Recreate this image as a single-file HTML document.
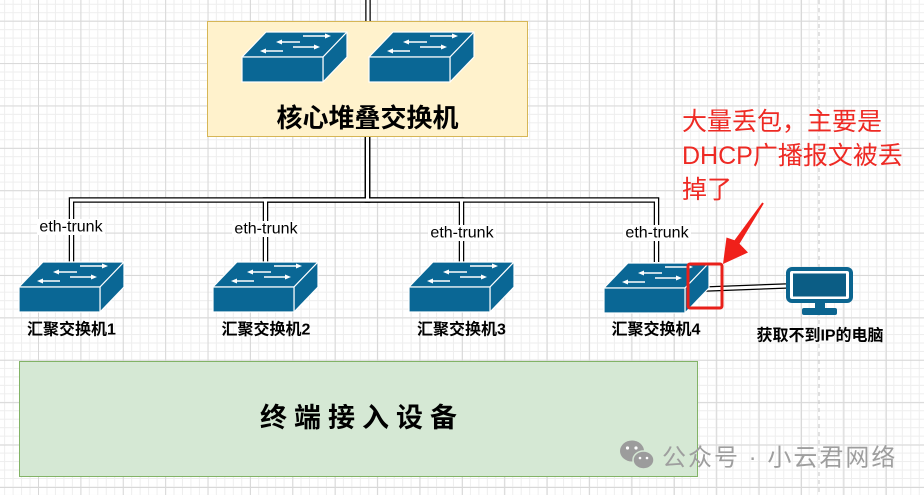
<!DOCTYPE html>
<html><head><meta charset="utf-8">
<style>
html,body{margin:0;padding:0;}
body{width:924px;height:495px;overflow:hidden;background-color:#fff;
background-image:
linear-gradient(to bottom,#d8d8d8 1px,transparent 1px),
linear-gradient(to right,#d8d8d8 1px,transparent 1px),
linear-gradient(to bottom,#eeeeee 1px,transparent 1px),
linear-gradient(to right,#eeeeee 1px,transparent 1px);
background-size:42.4px 42.4px,42.4px 42.4px,8.48px 8.48px,8.48px 8.48px;
background-position:0 20.7px,38px 0,0 20.7px,38px 0;}
svg{position:absolute;left:0;top:0;}
text{font-family:"Liberation Sans","Noto Sans CJK SC",sans-serif;}
</style></head>
<body>
<svg width="924" height="495" viewBox="0 0 924 495" xmlns="http://www.w3.org/2000/svg">
<defs>
<g id="sw">
  <polygon points="0,0 81,0 105,-25 24,-25" fill="#0a6795" stroke="#fff" stroke-width="1.2" stroke-linejoin="round"/>
  <polygon points="81,0 105,-25 105,0 81,25" fill="#0a6795" stroke="#fff" stroke-width="1.2" stroke-linejoin="round"/>
  <rect x="0" y="0" width="81" height="25" fill="#0a6795" stroke="#fff" stroke-width="1.2"/>
  <g stroke="#fff" stroke-width="1.6">
    <line x1="61" y1="-21" x2="84" y2="-21"/>
    <line x1="39" y1="-15" x2="58" y2="-15"/>
    <line x1="51" y1="-10" x2="73" y2="-10"/>
    <line x1="23" y1="-6" x2="41" y2="-6"/>
  </g>
  <g fill="#fff">
    <polygon points="89,-21 83,-23.5 83,-18.5"/>
    <polygon points="34,-15 40,-17.5 40,-12.5"/>
    <polygon points="78,-10 72,-12.5 72,-7.5"/>
    <polygon points="18,-6 24,-8.5 24,-3.5"/>
  </g>
</g>
</defs>

<line x1="819" y1="0" x2="819" y2="495" stroke="#c4c4c4" stroke-width="1" stroke-dasharray="4,4"/>

<g fill="none" stroke="#000" stroke-width="5.5" stroke-linejoin="miter">
  <path d="M368 0 V21"/>
  <path d="M367.5 137 V200 H71.5 V262"/>
  <path d="M367.5 137 V200 H265.5 V262"/>
  <path d="M367.5 137 V200 H461.5 V262"/>
  <path d="M367.5 137 V200 H656.5 V262"/>
  <path d="M706 289 L786 286"/>
</g>
<g fill="none" stroke="#fff" stroke-width="3" stroke-linejoin="miter">
  <path d="M368 0 V21"/>
  <path d="M367.5 137 V200 H71.5 V262"/>
  <path d="M367.5 137 V200 H265.5 V262"/>
  <path d="M367.5 137 V200 H461.5 V262"/>
  <path d="M367.5 137 V200 H656.5 V262"/>
  <path d="M706 289 L786 286"/>
</g>

<rect x="207.5" y="21.5" width="320" height="115" fill="#fff2cc" stroke="#d6b656" stroke-width="1"/>
<use href="#sw" x="242" y="57"/>
<use href="#sw" x="369" y="57"/>
<text x="367.5" y="118" font-size="26" font-weight="bold" text-anchor="middle" dominant-baseline="central" fill="#000">核心堆叠交换机</text>

<g font-size="16" fill="#000">
  <rect x="37" y="219" width="68" height="16" fill="#fff"/>
  <text x="71" y="227" text-anchor="middle" dominant-baseline="central">eth-trunk</text>
  <rect x="232" y="221" width="68" height="16" fill="#fff"/>
  <text x="266" y="229" text-anchor="middle" dominant-baseline="central">eth-trunk</text>
  <rect x="428" y="225" width="68" height="16" fill="#fff"/>
  <text x="462" y="233" text-anchor="middle" dominant-baseline="central">eth-trunk</text>
  <rect x="623" y="225" width="68" height="16" fill="#fff"/>
  <text x="657" y="233" text-anchor="middle" dominant-baseline="central">eth-trunk</text>
</g>

<use href="#sw" x="19" y="287"/>
<use href="#sw" x="213" y="287"/>
<use href="#sw" x="409" y="287"/>
<use href="#sw" x="604" y="288"/>
<g font-size="16" font-weight="bold" fill="#000" text-anchor="middle">
  <text x="71.5" y="330" dominant-baseline="central">汇聚交换机1</text>
  <text x="266" y="330" dominant-baseline="central">汇聚交换机2</text>
  <text x="461.5" y="330" dominant-baseline="central">汇聚交换机3</text>
  <text x="656" y="330" dominant-baseline="central">汇聚交换机4</text>
</g>

<rect x="786" y="267" width="67" height="36" rx="6" fill="#0b6590"/>
<rect x="790" y="271" width="59" height="28" rx="2" fill="#fff"/>
<rect x="793" y="273.5" width="53" height="23" fill="#0b5d85"/>
<rect x="815" y="303" width="10" height="7" fill="#0b6590"/>
<rect x="802" y="308" width="35" height="7" rx="2" fill="#0b6590"/>
<text x="820" y="336" font-size="16" font-weight="bold" text-anchor="middle" dominant-baseline="central" fill="#000">获取不到IP的电脑</text>

<rect x="688" y="264" width="34" height="44" rx="2" fill="none" stroke="#e8201a" stroke-width="3"/>
<polygon points="763.8,203.5 739.5,243.7 748,252.5 723,264 726.5,237.5 734.5,240.3 762.2,202.5" fill="#f0201a"/>
<g font-size="25" fill="#ee2a24">
  <text x="682" y="122" dominant-baseline="central">大量丢包，主要是</text>
  <text x="682" y="156" dominant-baseline="central">DHCP广播报文被丢</text>
  <text x="682" y="190" dominant-baseline="central">掉了</text>
</g>

<rect x="19.5" y="361.5" width="678" height="115" fill="#d5e8d4" stroke="#82b366" stroke-width="1"/>
<text x="362" y="418" font-size="27" font-weight="bold" letter-spacing="7" text-anchor="middle" dominant-baseline="central" fill="#000">终端接入设备</text>

<g fill="#9c9c9c">
  <ellipse cx="632" cy="451" rx="12" ry="10.5"/>
  <ellipse cx="643.5" cy="460" rx="10.5" ry="9" stroke="#d5e8d4" stroke-width="1.5"/>
  <circle cx="627.5" cy="448" r="1.6" fill="#fff"/>
  <circle cx="636" cy="448" r="1.6" fill="#fff"/>
  <circle cx="640" cy="458" r="1.3" fill="#fff"/>
  <circle cx="647" cy="458" r="1.3" fill="#fff"/>
</g>
<text x="662" y="458" font-size="24" letter-spacing="2" dominant-baseline="central" fill="#9e9e9e">公众号 · 小云君网络</text>
</svg>
</body></html>
